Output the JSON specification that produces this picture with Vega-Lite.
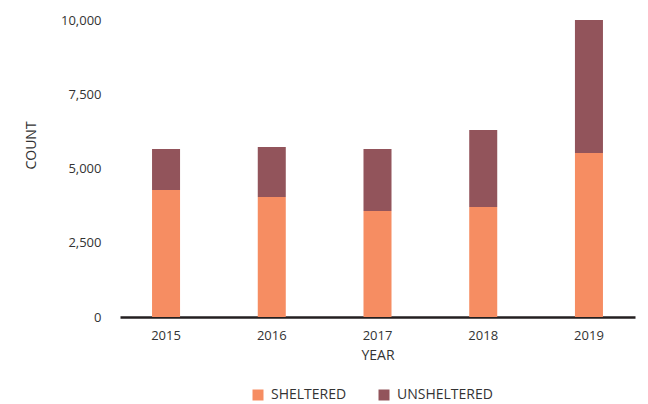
{
  "$schema": "https://vega.github.io/schema/vega-lite/v6.json",
  "autosize": {"type": "none"},
  "padding": {"left": 120, "top": 20, "right": 13, "bottom": 87},
  "width": 515,
  "height": 297,
  "background": "white",
  "config": {
    "view": {"stroke": null},
    "font": "Open Sans"
  },
  "data": {
    "values": [
      {"year": "2015", "status": "SHELTERED", "count": 4276},
      {"year": "2015", "status": "UNSHELTERED", "count": 1381},
      {"year": "2016", "status": "SHELTERED", "count": 4040},
      {"year": "2016", "status": "UNSHELTERED", "count": 1684},
      {"year": "2017", "status": "SHELTERED", "count": 3569},
      {"year": "2017", "status": "UNSHELTERED", "count": 2088},
      {"year": "2018", "status": "SHELTERED", "count": 3704},
      {"year": "2018", "status": "UNSHELTERED", "count": 2592},
      {"year": "2019", "status": "SHELTERED", "count": 5522},
      {"year": "2019", "status": "UNSHELTERED", "count": 4478}
    ]
  },
  "mark": {"type": "bar"},
  "encoding": {
    "x": {
      "field": "year",
      "type": "ordinal",
      "title": "YEAR",
      "scale": {"paddingInner": 0.735, "paddingOuter": 0.303},
      "axis": {
        "labelAngle": 0,
        "domainColor": "#231f20",
        "domainWidth": 2.5,
        "ticks": false,
        "labelPadding": 12,
        "labelFontSize": 13,
        "labelColor": "#333333",
        "titleFontSize": 14,
        "titleFontWeight": "normal",
        "titleColor": "#333333",
        "titlePadding": 6
      }
    },
    "y": {
      "field": "count",
      "type": "quantitative",
      "aggregate": "sum",
      "stack": "zero",
      "title": "COUNT",
      "scale": {"domain": [0, 10000], "nice": false},
      "axis": {
        "values": [0, 2500, 5000, 7500, 10000],
        "format": ",.0f",
        "grid": false,
        "domain": false,
        "ticks": false,
        "labelPadding": 19,
        "labelFontSize": 13,
        "labelColor": "#333333",
        "titleFontSize": 14,
        "titleFontWeight": "normal",
        "titleColor": "#333333",
        "titleX": -82,
        "titleY": 125,
        "titleAngle": -90
      }
    },
    "color": {
      "field": "status",
      "type": "nominal",
      "title": null,
      "scale": {"domain": ["SHELTERED", "UNSHELTERED"], "range": ["#F68D62", "#92545B"]},
      "legend": {
        "orient": "none",
        "direction": "horizontal",
        "legendX": 131,
        "legendY": 368,
        "symbolType": "square",
        "symbolSize": 121,
        "symbolStrokeWidth": 0,
        "labelFontSize": 14,
        "labelColor": "#333333",
        "labelOffset": 6,
        "columnPadding": 30
      }
    },
    "order": {"field": "status", "type": "nominal", "sort": "ascending"}
  }
}
